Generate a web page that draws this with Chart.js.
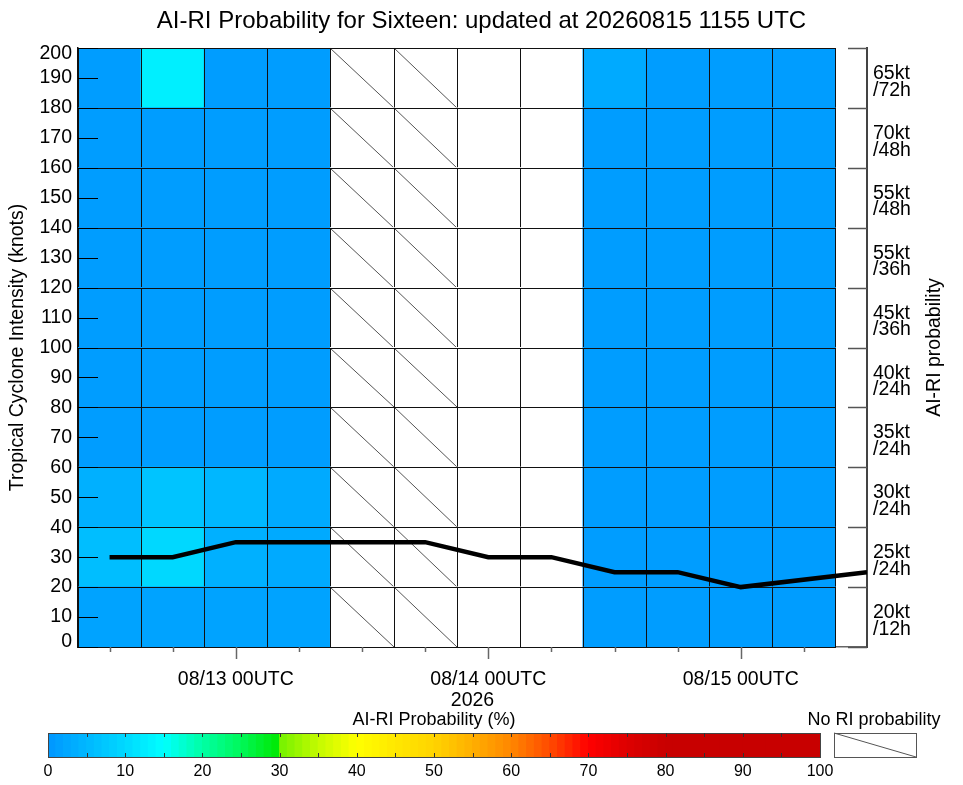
<!DOCTYPE html>
<html><head><meta charset="utf-8">
<script src="https://cdn.jsdelivr.net/npm/chart.js@4"></script>
<style>
html,body{margin:0;padding:0;background:#fff;}
#wrap{position:relative;width:963px;height:785px;overflow:hidden;}
canvas{position:absolute;left:0;top:0;}
</style></head><body>
<div id="wrap"><canvas id="main" width="963" height="785"></canvas><canvas id="cbar" width="963" height="785"></canvas></div>
<script>
const FONT = '"Liberation Sans", Arial, Helvetica, sans-serif';
const titleText = 'AI-RI Probability for Sixteen: updated at 20260815 1155 UTC';
const yTitleText = 'Tropical Cyclone Intensity (knots)';
const y2TitleText = 'AI-RI probability';
const xTitleText = '2026';
const cbTitleText = 'AI-RI Probability (%)';
const noRiText = 'No RI probability';

// x positions: hours after 08/12 00UTC
const columnHours = [12, 18, 24, 30, 36, 42, 48, 54, 60, 66, 72, 78];
const noRiColumn = [false, false, false, false, true, true, false, false, false, false, false, false];
const dayTickHours = [24, 48, 72];
const dayTickLabels = ['08/13 00UTC', '08/14 00UTC', '08/15 00UTC'];
const intensityTicks = [0, 10, 20, 30, 40, 50, 60, 70, 80, 90, 100, 110, 120, 130, 140, 150, 160, 170, 180, 190, 200];

// RI thresholds (rows, bottom to top) and row edges on the intensity axis
const rowLabels = [['20kt', '/12h'], ['25kt', '/24h'], ['30kt', '/24h'], ['35kt', '/24h'], ['40kt', '/24h'],
                   ['45kt', '/36h'], ['55kt', '/36h'], ['55kt', '/48h'], ['70kt', '/48h'], ['65kt', '/72h']];
const rowEdges = [0, 20, 40, 60, 80, 100, 120, 140, 160, 180, 200];

// AI-RI probability (%) per row, per column; null = no value
const prob20kt12h = [2, 2, 2, 2, null, null, null, null, 1, 1, 1, 1];
const prob25kt24h = [6, 10, 4, 3, null, null, null, null, 1, 1, 1, 1];
const prob30kt24h = [4, 7, 5, 3, null, null, null, null, 1, 1, 1, 1];
const prob35kt24h = [1, 1, 1, 1, null, null, null, null, 1, 1, 1, 1];
const prob40kt24h = [1, 1, 1, 1, null, null, null, null, 1, 1, 1, 1];
const prob45kt36h = [1, 1, 1, 1, null, null, null, null, 1, 1, 1, 1];
const prob55kt36h = [1, 1, 1, 1, null, null, null, null, 1, 1, 1, 1];
const prob55kt48h = [1, 1, 1, 1, null, null, null, null, 1, 1, 1, 1];
const prob70kt48h = [1, 1, 1, 1, null, null, null, null, 1, 1, 1, 1];
const prob65kt72h = [1, 13, 1, 1, null, null, null, null, 3, 1, 1, 1];
const rowProbs = [prob20kt12h, prob25kt24h, prob30kt24h, prob35kt24h, prob40kt24h,
                  prob45kt36h, prob55kt36h, prob55kt48h, prob70kt48h, prob65kt72h];

// Intensity track (knots)
const intensityHours = [12, 18, 24, 30, 36, 42, 48, 54, 60, 66, 72, 84];
const intensityKt = [30, 30, 35, 35, 35, 35, 30, 30, 25, 25, 20, 25];

// colour bar
const cbTicks = [0, 10, 20, 30, 40, 50, 60, 70, 80, 90, 100];
const cmapStops = [[0,[0,150,255]],[10,[0,216,255]],[15,[0,255,255]],[20,[0,255,165]],[25,[0,248,90]],
  [30,[0,232,0]],[30.01,[115,242,0]],[35,[195,250,0]],[40,[255,255,0]],[45,[255,232,0]],[50,[255,212,0]],
  [55,[255,175,0]],[60,[255,135,0]],[65,[255,75,0]],[70,[255,0,0]],[75,[222,0,0]],[80,[200,0,0]],[100,[200,0,0]]];

function colormap(v) {
  if (v === null || v === undefined) return '#ffffff';
  for (let i = 1; i < cmapStops.length; i++) {
    const [v1, c1] = cmapStops[i];
    const [v0, c0] = cmapStops[i - 1];
    if (v <= v1) {
      const t = (v - v0) / (v1 - v0);
      const c = c0.map((a, k) => Math.round(a + (c1[k] - a) * t));
      return `rgb(${c[0]},${c[1]},${c[2]})`;
    }
  }
  const c = cmapStops[cmapStops.length - 1][1];
  return `rgb(${c[0]},${c[1]},${c[2]})`;
}

const tickFont = {family: FONT, size: 19.5};
const yEndLabelShift = {0: -5, 200: 6};

const cellDatasets = rowProbs.map((vals, r) => ({
  type: 'bar',
  label: rowLabels[r].join(''),
  xAxisID: 'x', yAxisID: 'y', order: 1,
  data: columnHours.map(h => ({x: h, y: [rowEdges[r], rowEdges[r + 1]]})),
  backgroundColor: vals.map(v => colormap(v)),
  borderWidth: 0,
  barPercentage: 1, categoryPercentage: 1, grouped: false, inflateAmount: 0.5
}));

const lineDataset = {
  type: 'line', label: 'intensity', xAxisID: 'x', yAxisID: 'y', order: 0,
  data: intensityHours.map((h, i) => ({x: h, y: intensityKt[i]})),
  borderColor: '#000', borderWidth: 4.5, pointRadius: 0, tension: 0, fill: false
};

const mainDecor = {
  id: 'mainDecor',
  afterDatasetDraw(chart, args) {
    if (args.meta.type !== 'bar') return;
    const ctx = chart.ctx;
    ctx.save();
    args.meta.data.forEach((bar, i) => {
      const p = bar.getProps(['x', 'y', 'base', 'width'], true);
      const l = Math.round(p.x - p.width / 2), r = Math.round(p.x + p.width / 2);
      const t = Math.round(Math.min(p.y, p.base)), b = Math.round(Math.max(p.y, p.base));
      if (noRiColumn[i]) {
        ctx.strokeStyle = '#555'; ctx.lineWidth = 1;
        ctx.beginPath(); ctx.moveTo(l, t); ctx.lineTo(r, b); ctx.stroke();
      }
      ctx.strokeStyle = '#111'; ctx.lineWidth = 1;
      ctx.strokeRect(l + 0.5, t + 0.5, r - l, b - t);
    });
    ctx.restore();
  },
  afterDraw(chart) {
    const {ctx, chartArea: a, scales} = chart;
    const x = scales.x, y = scales.y;
    ctx.save();
    // left inner ticks
    ctx.strokeStyle = '#000'; ctx.lineWidth = 1;
    intensityTicks.forEach(v => {
      const py = Math.round(y.getPixelForValue(v)) + 0.5;
      ctx.beginPath(); ctx.moveTo(a.left, py); ctx.lineTo(a.left + 20, py); ctx.stroke();
    });
    // end labels of the intensity axis, nudged inside like the original
    ctx.fillStyle = '#000';
    ctx.font = `19.5px ${FONT}`;
    ctx.textAlign = 'right'; ctx.textBaseline = 'middle';
    Object.keys(yEndLabelShift).forEach(k => {
      const v = Number(k);
      ctx.fillText(String(v), a.left - 6, y.getPixelForValue(v) + yEndLabelShift[k]);
    });
    // right inner ticks at row edges
    ctx.strokeStyle = '#555'; ctx.lineWidth = 1.5;
    rowEdges.forEach(v => {
      const py = Math.round(y.getPixelForValue(v)) + 0.5;
      ctx.beginPath(); ctx.moveTo(a.right - 19, py); ctx.lineTo(a.right, py); ctx.stroke();
    });
    // x ticks below the axis
    ctx.strokeStyle = '#666'; ctx.lineWidth = 1.5;
    columnHours.forEach(h => {
      const px = Math.round(x.getPixelForValue(h)) + 0.5;
      const len = dayTickHours.includes(h) ? 12 : 5;
      ctx.beginPath(); ctx.moveTo(px, a.bottom); ctx.lineTo(px, a.bottom + len); ctx.stroke();
    });
    // main title
    ctx.textAlign = 'center'; ctx.textBaseline = 'middle';
    ctx.font = `24px ${FONT}`;
    ctx.fillText(titleText, chart.width / 2, 21);
    // right axis title
    ctx.font = `19.5px ${FONT}`;
    ctx.translate(935, (a.top + a.bottom) / 2);
    ctx.rotate(-Math.PI / 2);
    ctx.fillText(y2TitleText, 0, 0);
    ctx.restore();
  }
};

new Chart(document.getElementById('main'), {
  type: 'bar',
  data: {datasets: [...cellDatasets, lineDataset]},
  options: {
    responsive: false, animation: false, events: [],
    layout: {padding: {left: 0, right: 0, top: 48, bottom: 0}},
    plugins: {legend: {display: false}, tooltip: {enabled: false}, title: {display: false}},
    scales: {
      x: {
        type: 'linear', position: 'bottom', min: 9, max: 84, z: 1, offset: false,
        afterBuildTicks: s => { s.ticks = columnHours.map(v => ({value: v})); },
        grid: {display: false, drawTicks: false, offset: false},
        border: {display: true, color: '#666', width: 1.5},
        ticks: {autoSkip: false, maxRotation: 0, padding: 21, font: tickFont, color: '#000',
          callback: v => { const i = dayTickHours.indexOf(v); return i >= 0 ? dayTickLabels[i] : ''; }},
        title: {display: true, text: xTitleText, font: tickFont, color: '#000', padding: {top: 0, bottom: 73}},
        afterFit: s => { s.height = 138; }
      },
      y: {
        type: 'linear', position: 'left', min: 0, max: 200, z: 1,
        afterBuildTicks: s => { s.ticks = intensityTicks.map(v => ({value: v})); },
        grid: {display: false, drawTicks: false},
        border: {display: true, color: '#111', width: 1.5},
        ticks: {autoSkip: false, padding: 6, font: tickFont, color: '#000',
          callback: v => (v in yEndLabelShift) ? '' : String(v)},
        title: {display: true, text: yTitleText, font: tickFont, color: '#000', padding: {top: 6, bottom: 0}},
        afterFit: s => { s.width = 78; }
      },
      y2: {
        type: 'category', position: 'right', labels: rowLabels.slice().reverse(), offset: true, z: 1,
        grid: {display: false, drawTicks: false},
        border: {display: true, color: '#444', width: 2},
        ticks: {autoSkip: false, padding: 6, labelOffset: 4, font: {family: FONT, size: 19.5, lineHeight: 0.85}, color: '#000'},
        afterFit: s => { s.width = 96; }
      }
    }
  },
  plugins: [mainDecor]
});

// ---------- colour bar ----------
const cbSteps = [];
for (let v = 0; v < 100; v++) cbSteps.push(v);

const cbDecor = {
  id: 'cbDecor',
  afterDraw(chart) {
    const {ctx, chartArea: a, scales: {x}} = chart;
    ctx.save();
    ctx.strokeStyle = '#444'; ctx.lineWidth = 1;
    ctx.strokeRect(a.left + 0.5, a.top + 0.5, a.right - a.left, a.bottom - a.top);
    ctx.strokeStyle = '#333';
    for (let v = 5; v < 100; v += 5) {
      const px = Math.round(x.getPixelForValue(v)) + 0.5;
      ctx.beginPath(); ctx.moveTo(px, a.top); ctx.lineTo(px, a.top + 4);
      ctx.moveTo(px, a.bottom); ctx.lineTo(px, a.bottom - 4); ctx.stroke();
    }
    // no-RI box
    const bx = a.right + 14, bw = 82;
    ctx.strokeStyle = '#555';
    ctx.strokeRect(bx + 0.5, a.top + 0.5, bw, a.bottom - a.top);
    ctx.beginPath(); ctx.moveTo(bx, a.top); ctx.lineTo(bx + bw, a.bottom); ctx.stroke();
    ctx.fillStyle = '#000'; ctx.textAlign = 'center'; ctx.textBaseline = 'middle';
    ctx.font = `18px ${FONT}`;
    ctx.fillText(cbTitleText, (a.left + a.right) / 2, 720);
    ctx.fillText(noRiText, bx + bw / 2 - 1, 720);
    ctx.restore();
  }
};

new Chart(document.getElementById('cbar'), {
  type: 'bar',
  data: {
    labels: ['p'],
    datasets: [{
      data: cbSteps.map(v => ({x: [v, v + 1], y: 'p'})),
      backgroundColor: cbSteps.map(v => colormap(v + 0.5)),
      borderWidth: 0, barPercentage: 1, categoryPercentage: 1, grouped: false, inflateAmount: 0.5
    }]
  },
  options: {
    indexAxis: 'y', responsive: false, animation: false, events: [],
    layout: {padding: {left: 48, right: 143, top: 733, bottom: 0}},
    plugins: {legend: {display: false}, tooltip: {enabled: false}},
    scales: {
      x: {
        type: 'linear', min: 0, max: 100,
        afterBuildTicks: s => { s.ticks = cbTicks.map(v => ({value: v})); },
        grid: {display: false, drawTicks: false},
        border: {display: false},
        ticks: {autoSkip: false, maxRotation: 0, padding: 5, font: {family: FONT, size: 16}, color: '#000'},
        afterFit: s => { s.height = 28; }
      },
      y: {display: false}
    }
  },
  plugins: [cbDecor]
});
</script>
</body></html>
